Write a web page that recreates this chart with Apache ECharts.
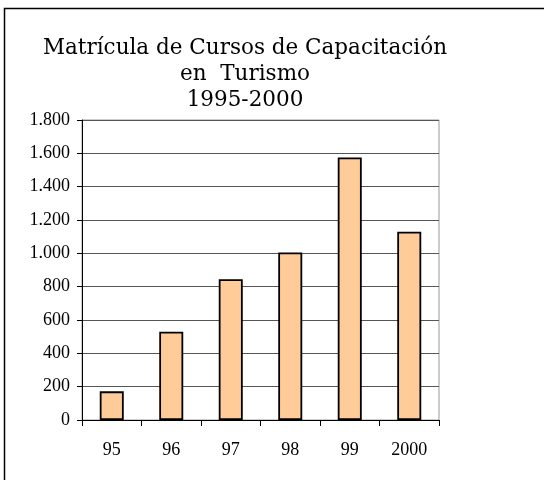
<!DOCTYPE html>
<html><head><meta charset="utf-8">
<script src="https://cdn.jsdelivr.net/npm/echarts@6/dist/echarts.min.js"></script>
<style>html,body{margin:0;padding:0;background:#fff}#c{width:544px;height:480px}</style>
</head><body><div id="c"></div>
<script>
const categories = ['95', '96', '97', '98', '99', '2000'];
const values = [172, 530, 845, 1005, 1575, 1130];
const titleLines = ['Matrícula de Cursos de Capacitación', 'en  Turismo', '1995-2000'];

const chart = echarts.init(document.getElementById('c'));
function fmt(v){ return String(v).replace(/\B(?=(\d{3})+(?!\d))/g, '.'); }
chart.setOption({
  animation: false,
  title: {
    text: titleLines.join('\n'),
    left: 240, top: 30, textAlign: 'center',
    textStyle: { fontFamily: 'DejaVu Serif', fontSize: 21.5, fontWeight: 'normal', color: '#000', lineHeight: 26 }
  },
  graphic: [{
    type: 'rect', shape: { x: 4.5, y: 8.5, width: 600, height: 600 },
    style: { fill: 'none', stroke: '#000', lineWidth: 1.5 }, silent: true, z: -1
  }],
  grid: { left: 82, right: 105, top: 120, bottom: 60, show: true, borderColor: '#999', borderWidth: 1, backgroundColor: 'transparent' },
  xAxis: {
    type: 'category', data: categories,
    axisLine: { lineStyle: { color: '#000', width: 1 } },
    axisTick: { show: true, length: 6, lineStyle: { color: '#000' } },
    axisLabel: { color: '#000', fontFamily: 'Liberation Serif', fontSize: 18, margin: 21 }
  },
  yAxis: {
    type: 'value', min: 0, max: 1800, interval: 200,
    axisLine: { show: true, lineStyle: { color: '#000', width: 1 } },
    axisTick: { show: true, length: 5, lineStyle: { color: '#000' } },
    axisLabel: { color: '#000', fontFamily: 'Liberation Serif', fontSize: 18, margin: 12, formatter: fmt },
    splitLine: { lineStyle: { color: '#555', width: 1 } }
  },
  series: [{
    type: 'bar', data: values, barWidth: 24,
    itemStyle: { color: '#FFCC99', borderColor: '#000', borderWidth: 1.8 }
  }]
});
</script></body></html>
